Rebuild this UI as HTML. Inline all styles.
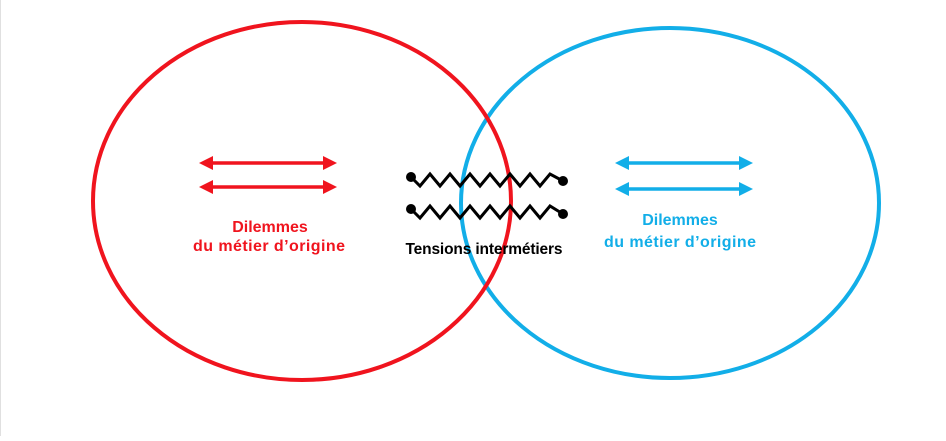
<!DOCTYPE html>
<html><head><style>
body{margin:0;background:#fff;}
svg text{font-family:"Liberation Sans",sans-serif;font-weight:bold;font-size:16px;text-anchor:middle;}
</style></head><body>
<svg width="946" height="436" viewBox="0 0 946 436" xmlns="http://www.w3.org/2000/svg">
<rect x="0" y="0" width="1" height="436" fill="#e0e0e0"/>
<defs>
<marker id="r" markerWidth="4" markerHeight="4" refX="2" refY="2" orient="auto-start-reverse" markerUnits="strokeWidth"><path d="M0,0L4,2L0,4z" fill="#f0141e"/></marker>
<marker id="b" markerWidth="4" markerHeight="4" refX="2" refY="2" orient="auto-start-reverse" markerUnits="strokeWidth"><path d="M0,0L4,2L0,4z" fill="#12aee8"/></marker>
</defs>
<ellipse cx="670" cy="203" rx="209" ry="175" fill="none" stroke="#12aee8" stroke-width="4"/>
<ellipse cx="302" cy="201" rx="209" ry="179" fill="none" stroke="#f0141e" stroke-width="4"/>
<g stroke="#f0141e" stroke-width="3.5" marker-start="url(#r)" marker-end="url(#r)">
<line x1="206" y1="163" x2="330" y2="163"/><line x1="206" y1="187" x2="330" y2="187"/></g>
<g stroke="#12aee8" stroke-width="3.5" marker-start="url(#b)" marker-end="url(#b)">
<line x1="622" y1="163" x2="746" y2="163"/><line x1="622" y1="189" x2="746" y2="189"/></g>
<g fill="none" stroke="#000" stroke-width="3" stroke-linejoin="miter">
<path d="M411,177 L420,186 L430,174 L440,186 L450,174 L460,186 L470,174 L480,186 L490,174 L500,186 L510,174 L520,186 L530,174 L540,186 L550,174 L563,181"/>
<path d="M411,209 L420,218 L430,206 L440,218 L450,206 L460,218 L470,206 L480,218 L490,206 L500,218 L510,206 L520,218 L530,206 L540,218 L550,206 L563,214"/>
</g>
<g fill="#000"><circle cx="411" cy="177" r="5"/><circle cx="563" cy="181" r="5"/><circle cx="411" cy="209" r="5"/><circle cx="563" cy="214" r="5"/></g>
<g fill="#f0141e"><text x="270" y="232">Dilemmes</text><text x="269" y="251" textLength="152">du métier d’origine</text></g>
<g fill="#12aee8"><text x="680" y="225">Dilemmes</text><text x="680" y="247" textLength="152">du métier d’origine</text></g>
<text x="484" y="254" fill="#000" style="font-size:15.5px" textLength="157">Tensions intermétiers</text>
</svg>
</body></html>
